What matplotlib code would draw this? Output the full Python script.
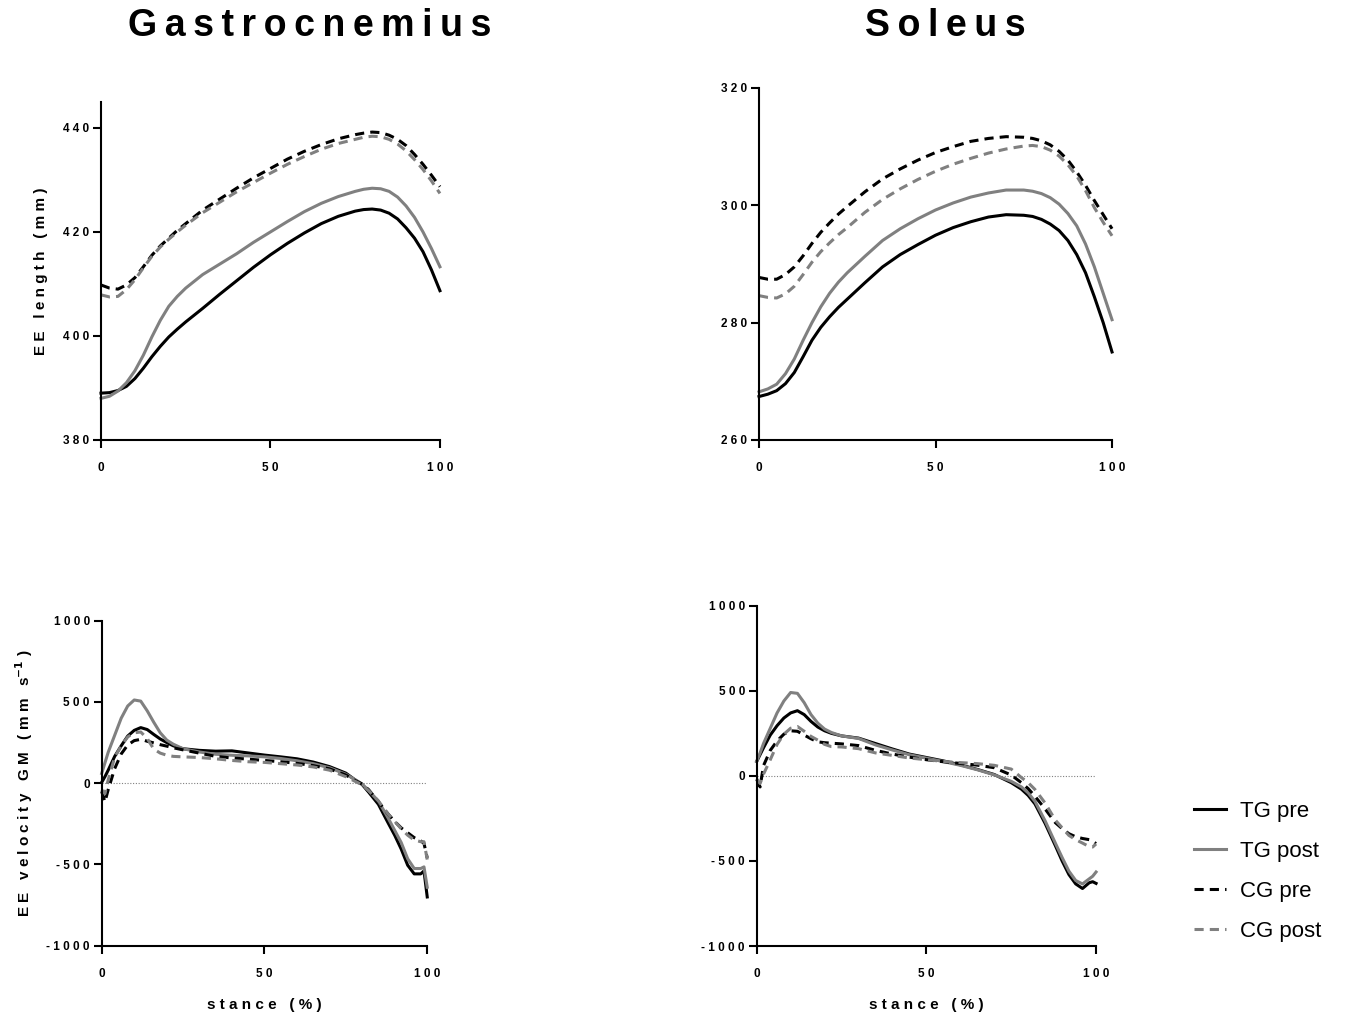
import matplotlib
matplotlib.use("Agg")
import matplotlib.pyplot as plt

plt.rcParams['font.family'] = ['Liberation Sans', 'DejaVu Sans']

black = '#000000'
grey = '#808080'
DPI = 100

# stance (%) grid for length curves
stance = [0, 2.5, 5, 7.5, 10, 12.5, 15, 17.5, 20, 22.5, 25, 30, 35, 40, 45, 50, 55, 60, 65, 70,
          75, 77.5, 80, 82.5, 85, 87.5, 90, 92.5, 95, 97.5, 100]

# Gastrocnemius EE length (mm)
gm_len_tg_pre = [389.0, 389.1, 389.5, 390.3, 391.8, 393.8, 396.0, 398.0, 399.8, 401.3, 402.7,
                 405.3, 408.0, 410.6, 413.2, 415.6, 417.8, 419.8, 421.6, 423.0,
                 424.0, 424.3, 424.4, 424.2, 423.6, 422.5, 420.8, 418.8, 416.2, 412.7, 408.7]
gm_len_tg_post = [388.0, 388.4, 389.4, 391.0, 393.3, 396.3, 399.8, 403.0, 405.7, 407.6, 409.2,
                  411.8, 413.8, 415.8, 418.0, 420.0, 422.0, 423.9, 425.5, 426.8,
                  427.8, 428.2, 428.4, 428.3, 427.8, 426.7, 425.0, 422.8, 420.0, 416.8, 413.3]
gm_len_cg_pre = [409.8, 409.2, 409.0, 409.8, 411.2, 413.3, 415.5, 417.3, 418.8, 420.3, 421.6,
                 424.2, 426.3, 428.4, 430.4, 432.2, 434.0, 435.5, 436.8, 437.9,
                 438.7, 439.0, 439.2, 439.1, 438.6, 437.8, 436.6, 434.9, 433.0, 430.9, 428.7]
gm_len_cg_post = [407.9, 407.5, 407.6, 408.9, 410.8, 413.1, 415.3, 417.1, 418.6, 420.0, 421.3,
                  423.7, 425.7, 427.7, 429.5, 431.3, 433.0, 434.5, 435.9, 437.0,
                  437.8, 438.2, 438.4, 438.3, 437.8, 436.9, 435.6, 433.9, 432.0, 429.8, 427.4]

# Soleus EE length (mm)
sol_len_tg_pre = [267.4, 267.8, 268.4, 269.6, 271.5, 274.2, 277.0, 279.2, 281.0, 282.6, 284.0,
                  286.8, 289.5, 291.6, 293.3, 294.9, 296.2, 297.2, 298.0, 298.4,
                  298.3, 298.1, 297.6, 296.8, 295.7, 294.0, 291.6, 288.5, 284.4, 280.0, 275.0]
sol_len_tg_post = [268.2, 268.7, 269.5, 271.3, 273.8, 277.0, 280.0, 282.7, 285.0, 286.9, 288.5,
                   291.3, 294.0, 296.0, 297.7, 299.2, 300.4, 301.4, 302.1, 302.6,
                   302.6, 302.4, 302.0, 301.3, 300.2, 298.6, 296.5, 293.4, 289.5, 285.0, 280.5]
sol_len_cg_pre = [287.7, 287.4, 287.4, 288.2, 289.5, 291.4, 293.5, 295.4, 297.0, 298.5, 299.8,
                  302.3, 304.5, 306.2, 307.7, 309.0, 310.0, 310.9, 311.4, 311.7,
                  311.6, 311.4, 311.0, 310.3, 309.2, 307.7, 305.7, 303.4, 300.8, 298.4, 296.0]
sol_len_cg_post = [284.6, 284.3, 284.2, 284.9, 286.2, 288.2, 290.3, 292.1, 293.6, 295.0, 296.2,
                   298.8, 301.0, 302.8, 304.4, 305.8, 307.0, 308.0, 308.9, 309.6,
                   310.1, 310.2, 310.0, 309.4, 308.4, 306.9, 305.0, 302.5, 299.6, 297.1, 294.8]

# stance (%) grid for velocity curves
stance_v = [0, 1, 2, 4, 6, 8, 10, 12, 14, 16, 18, 20, 22, 25, 30,
            35, 40, 45, 50, 55, 60, 65, 70, 75, 78, 80, 82, 85, 88, 90, 92, 94, 96, 98, 99, 100]

# Gastrocnemius EE velocity (mm s-1)
gm_vel_tg_pre = [5, 40, 80, 165, 230, 290, 325, 342, 330, 300, 272, 250, 230, 212, 202,
                 197, 199, 186, 173, 162, 150, 130, 102, 62, 18, -8, -55, -130, -245, -320,
                 -405, -505, -558, -558, -540, -700]
gm_vel_tg_post = [60, 125, 190, 295, 400, 475, 512, 505, 445, 375, 310, 265, 240, 212, 192,
                  178, 172, 168, 162, 152, 138, 120, 95, 55, 20, -5, -45, -110, -215, -290,
                  -365, -465, -525, -525, -515, -640]
gm_vel_cg_pre = [-50, -115, -40, 90, 180, 235, 262, 270, 258, 248, 237, 228, 218, 205, 185,
                 165, 155, 148, 140, 132, 122, 108, 88, 50, 15, -5, -40, -115, -190, -235,
                 -275, -305, -335, -355, -370, -460]
gm_vel_cg_post = [-40, -65, 20, 160, 230, 285, 310, 315, 275, 210, 185, 172, 165, 162, 158,
                  150, 140, 132, 128, 120, 112, 100, 80, 40, 10, -10, -45, -110, -190, -235,
                  -280, -320, -350, -360, -360, -470]

# Soleus EE velocity (mm s-1)
sol_vel_tg_pre = [85, 125, 165, 240, 295, 340, 370, 383, 360, 320, 287, 265, 250, 235, 222,
                  190, 158, 128, 108, 88, 65, 38, 8, -40, -78, -115, -165, -280, -410, -500,
                  -580, -635, -662, -628, -622, -632]
sol_vel_tg_post = [85, 135, 190, 280, 370, 440, 490, 485, 430, 360, 310, 275, 255, 235, 220,
                   182, 152, 124, 104, 84, 62, 36, 6, -32, -65, -100, -150, -265, -395, -480,
                   -560, -615, -635, -605, -590, -565]
sol_vel_cg_pre = [-20, -65, 60, 150, 205, 245, 265, 262, 240, 218, 200, 195, 192, 188, 178,
                  150, 128, 110, 95, 83, 73, 63, 48, 5, -40, -75, -120, -195, -275, -310,
                  -340, -358, -368, -375, -385, -398]
sol_vel_cg_post = [-20, -45, 10, 95, 185, 245, 280, 290, 262, 232, 210, 185, 172, 170, 160,
                   135, 120, 105, 95, 85, 78, 72, 62, 40, -10, -40, -80, -160, -260, -305,
                   -350, -375, -395, -416, -418, -400]

groups = ['TG pre', 'TG post', 'CG pre', 'CG post']
colors = [black, grey, black, grey]
styles = ['-', '-', (0, (3, 2)), (0, (3, 2))]


def spaced(s, sep=' '):
    # GraphPad-like letter spacing
    return '   '.join(sep.join(w) for w in s.split(' '))


def style_axes(ax, xt, yt, ylim):
    ax.spines['top'].set_visible(False)
    ax.spines['right'].set_visible(False)
    ax.spines['left'].set_linewidth(1.5)
    ax.spines['bottom'].set_linewidth(1.5)
    ax.set_xlim(0, 100)
    ax.set_ylim(*ylim)
    ax.set_xticks(xt, labels=[spaced(str(v)) for v in xt])
    ax.set_yticks(yt, labels=[spaced(str(v)) for v in yt])
    ax.tick_params(axis='both', direction='out', length=6, width=1.5, labelsize=8.5)
    ax.tick_params(axis='x', pad=10)
    ax.tick_params(axis='y', pad=2.5)
    for lab in ax.get_xticklabels() + ax.get_yticklabels():
        lab.set_fontweight('bold')


fig = plt.figure(figsize=(13.52, 10.17), dpi=DPI)

ax1 = fig.add_axes([0.0747, 0.5674, 0.2507, 0.3324])
ax2 = fig.add_axes([0.5614, 0.5674, 0.2611, 0.3461])
ax3 = fig.add_axes([0.0752, 0.0701, 0.2408, 0.3196])
ax4 = fig.add_axes([0.5597, 0.0698, 0.2510, 0.3346])

for ys, c, ls in zip([gm_len_tg_pre, gm_len_tg_post, gm_len_cg_pre, gm_len_cg_post], colors, styles):
    ax1.plot(stance, ys, color=c, linestyle=ls, lw=2.2, clip_on=False, solid_joinstyle='round')
for ys, c, ls in zip([sol_len_tg_pre, sol_len_tg_post, sol_len_cg_pre, sol_len_cg_post], colors, styles):
    ax2.plot(stance, ys, color=c, linestyle=ls, lw=2.2, clip_on=False, solid_joinstyle='round')

lines = []
for ax, series in [(ax3, [gm_vel_tg_pre, gm_vel_tg_post, gm_vel_cg_pre, gm_vel_cg_post]),
                   (ax4, [sol_vel_tg_pre, sol_vel_tg_post, sol_vel_cg_pre, sol_vel_cg_post])]:
    ax.plot([0, 100], [0, 0], color=grey, lw=0.8, linestyle=(0, (1, 1.5)))
    for ys, c, ls, g in zip(series, colors, styles, groups):
        ln, = ax.plot(stance_v, ys, color=c, linestyle=ls, lw=2.2, clip_on=False, label=g,
                      solid_joinstyle='round')
        if ax is ax4:
            lines.append(ln)

style_axes(ax1, [0, 50, 100], [380, 400, 420, 440], (380, 445))
style_axes(ax2, [0, 50, 100], [260, 280, 300, 320], (260, 320))
style_axes(ax3, [0, 50, 100], [-1000, -500, 0, 500, 1000], (-1000, 1000))
style_axes(ax4, [0, 50, 100], [-1000, -500, 0, 500, 1000], (-1000, 1000))

ax1.set_ylabel(spaced('EE length (mm)'), fontsize=11, fontweight='bold', labelpad=11)
ax3.set_ylabel(spaced('EE velocity GM (mm s') + r'$^{\mathbf{-1}}$' + ' )',
               fontsize=11, fontweight='bold', labelpad=8)
ax3.set_xlabel(spaced('stance (%)'), fontsize=11, fontweight='bold', labelpad=13)
ax4.set_xlabel(spaced('stance (%)'), fontsize=11, fontweight='bold', labelpad=13)

title_font = ['Liberation Sans Narrow', 'Liberation Sans', 'DejaVu Sans']
fig.text(310 / 1352, 1 - 26 / 1017, spaced('Gastrocnemius', '\u2009'), ha='center', va='center',
         fontsize=27, fontweight='bold', family=title_font)
fig.text(945 / 1352, 1 - 26 / 1017, spaced('Soleus', '\u2009'), ha='center', va='center',
         fontsize=27, fontweight='bold', family=title_font)

fig.legend(handles=lines, loc='upper left', bbox_to_anchor=(1174 / 1352, 1 - 781 / 1017),
           frameon=False, fontsize=16, handlelength=1.45, labelspacing=0.85, handletextpad=0.6)

plt.savefig("out.png", dpi=DPI)
